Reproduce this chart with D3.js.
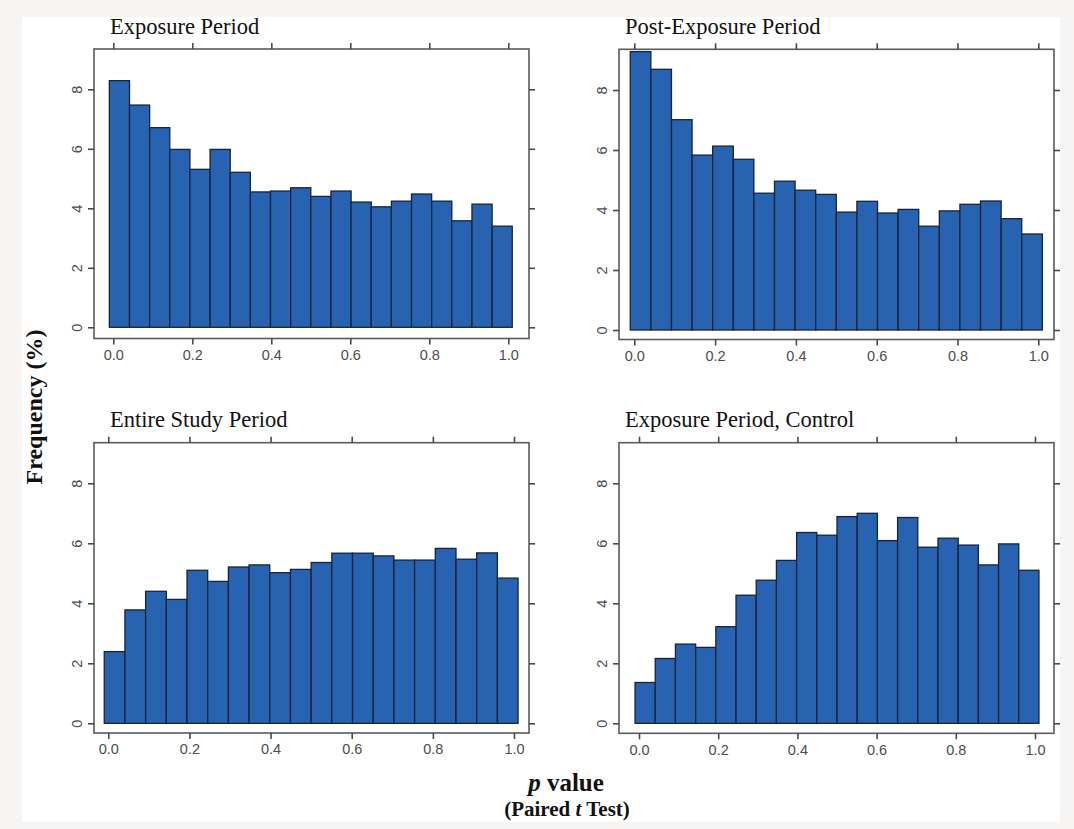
<!DOCTYPE html>
<html>
<head>
<meta charset="utf-8">
<script src="https://cdn.jsdelivr.net/npm/d3@7"></script>
<style>
  html, body { margin: 0; padding: 0; background: #f6f5f3; }
  svg { display: block; }
</style>
</head>
<body>
<svg id="chart" width="1074" height="829"></svg>
<script>
// histogram breaks (20 equal bins, slightly wider than [0, 1])
const BIN_START = -0.01;
const BIN_END = 1.01;

const xTicks = [0, 0.2, 0.4, 0.6, 0.8, 1.0];
const yTicks = [0, 2, 4, 6, 8];

const panelTitles = [
  'Exposure Period',
  'Post-Exposure Period',
  'Entire Study Period',
  'Exposure Period, Control'
];

// frequency (%) per bin
const exposureFreq = [8.29, 7.47, 6.71, 5.98, 5.31, 5.98, 5.21, 4.55, 4.58, 4.69,
  4.40, 4.58, 4.21, 4.05, 4.24, 4.48, 4.24, 3.58, 4.14, 3.40];
const postExposureFreq = [9.28, 8.69, 7.01, 5.83, 6.13, 5.69, 4.56, 4.96, 4.66, 4.52,
  3.93, 4.29, 3.90, 4.02, 3.46, 3.97, 4.19, 4.30, 3.71, 3.20];
const entireStudyFreq = [2.39, 3.78, 4.40, 4.13, 5.10, 4.73, 5.21, 5.28, 5.02, 5.13,
  5.36, 5.67, 5.67, 5.58, 5.44, 5.44, 5.83, 5.47, 5.68, 4.84];
const controlFreq = [1.36, 2.16, 2.64, 2.53, 3.22, 4.27, 4.77, 5.43, 6.36, 6.27,
  6.89, 7.00, 6.09, 6.86, 5.87, 6.17, 5.94, 5.28, 5.98, 5.10];

const panelValues = [exposureFreq, postExposureFreq, entireStudyFreq, controlFreq];

// panel geometry: box [x0, y0, x1, y1], pixel positions of x=0/x=1 and y=0/y=8
const PANEL_LAYOUT = [
  { box: [94, 49, 529, 338.5], xRange: [113.3, 508.3], yRange: [327.3, 89.3], titleX: 110, titleY: 34 },
  { box: [619, 49.3, 1054, 339.5], xRange: [634.3, 1038.3], yRange: [330, 90], titleX: 625, titleY: 34 },
  { box: [94, 442.7, 529, 733], xRange: [108.3, 514], yRange: [723.3, 483.3], titleX: 110, titleY: 427 },
  { box: [619, 442.7, 1054, 733.3], xRange: [639, 1035], yRange: [723.3, 483.3], titleX: 625, titleY: 427 }
];

const BAR_FILL = '#2863b1';
const BAR_STROKE = '#17233a';
const FRAME_COLOR = '#5a5a5a';
const TICK_LABEL_COLOR = '#4d4d4d';
const TICK_LENGTH = 6;
const SERIF = '"Liberation Serif", "Times New Roman", serif';
const SANS = '"Liberation Sans", Arial, sans-serif';

const svg = d3.select('#chart');

svg.append('rect')
  .attr('x', 22).attr('y', 17)
  .attr('width', 1038).attr('height', 805)
  .attr('fill', '#ffffff');

function makeBins(values) {
  const step = (BIN_END - BIN_START) / values.length;
  return values.map((v, i) => ({ x0: BIN_START + i * step, x1: BIN_START + (i + 1) * step, value: v }));
}

function drawPanel(title, values, layout) {
  const [bx0, by0, bx1, by1] = layout.box;
  const x = d3.scaleLinear().domain([0, 1]).range(layout.xRange);
  const y = d3.scaleLinear().domain([0, 8]).range(layout.yRange);
  const g = svg.append('g').attr('class', 'panel');

  g.append('g')
    .attr('class', 'bars')
    .selectAll('rect')
    .data(makeBins(values))
    .join('rect')
    .attr('x', (d) => x(d.x0))
    .attr('width', (d) => x(d.x1) - x(d.x0))
    .attr('y', (d) => y(d.value))
    .attr('height', (d) => y(0) - y(d.value))
    .attr('fill', BAR_FILL)
    .attr('stroke', BAR_STROKE)
    .attr('stroke-width', 1.3);

  g.append('rect')
    .attr('x', bx0).attr('y', by0)
    .attr('width', bx1 - bx0).attr('height', by1 - by0)
    .attr('fill', 'none')
    .attr('stroke', FRAME_COLOR)
    .attr('stroke-width', 1.6);

  // lattice-style axes: ticks on all four sides, labels bottom and left
  const axisBottom = d3.axisBottom(x).tickValues(xTicks).tickFormat(d3.format('.1f'))
    .tickSizeInner(TICK_LENGTH).tickSizeOuter(0).tickPadding(5);
  const axisTop = d3.axisTop(x).tickValues(xTicks).tickFormat('')
    .tickSizeInner(TICK_LENGTH).tickSizeOuter(0);
  const axisLeft = d3.axisLeft(y).tickValues(yTicks).tickFormat(d3.format('d'))
    .tickSizeInner(TICK_LENGTH).tickSizeOuter(0).tickPadding(4);
  const axisRight = d3.axisRight(y).tickValues(yTicks).tickFormat('')
    .tickSizeInner(TICK_LENGTH).tickSizeOuter(0);

  const axes = [
    g.append('g').attr('transform', `translate(0,${by1})`).call(axisBottom),
    g.append('g').attr('transform', `translate(0,${by0})`).call(axisTop),
    g.append('g').attr('transform', `translate(${bx0},0)`).call(axisLeft),
    g.append('g').attr('transform', `translate(${bx1},0)`).call(axisRight)
  ];
  axes.forEach((a) => {
    a.select('.domain').remove();
    a.selectAll('.tick line').attr('stroke', '#4a4a4a').attr('stroke-width', 1.6);
    a.selectAll('.tick text')
      .attr('fill', TICK_LABEL_COLOR)
      .style('font-family', SANS)
      .style('font-size', '14.5px');
  });

  // y tick labels are rotated, reading bottom to top
  axes[2].selectAll('.tick text')
    .attr('x', null).attr('dy', null)
    .attr('text-anchor', 'middle')
    .attr('dominant-baseline', 'central')
    .attr('transform', `translate(${-TICK_LENGTH - 11},0) rotate(-90)`);

  g.append('text')
    .attr('x', layout.titleX)
    .attr('y', layout.titleY)
    .attr('fill', '#111')
    .style('font-family', SERIF)
    .style('font-size', '22.5px')
    .text(title);
}

panelTitles.forEach((t, i) => drawPanel(t, panelValues[i], PANEL_LAYOUT[i]));

svg.append('text')
  .attr('transform', 'translate(42,407) rotate(-90)')
  .attr('text-anchor', 'middle')
  .attr('fill', '#111')
  .style('font-family', SERIF)
  .style('font-size', '24px')
  .style('font-weight', 'bold')
  .text('Frequency (%)');

const xTitle = svg.append('text')
  .attr('x', 566).attr('y', 791)
  .attr('text-anchor', 'middle')
  .attr('fill', '#111')
  .style('font-family', SERIF)
  .style('font-size', '25px')
  .style('font-weight', 'bold');
xTitle.append('tspan').style('font-style', 'italic').text('p');
xTitle.append('tspan').text(' value');

const xSubtitle = svg.append('text')
  .attr('x', 567).attr('y', 816)
  .attr('text-anchor', 'middle')
  .attr('fill', '#111')
  .style('font-family', SERIF)
  .style('font-size', '21px')
  .style('font-weight', 'bold');
xSubtitle.append('tspan').text('(Paired ');
xSubtitle.append('tspan').style('font-style', 'italic').text('t');
xSubtitle.append('tspan').text(' Test)');
</script>
</body>
</html>
